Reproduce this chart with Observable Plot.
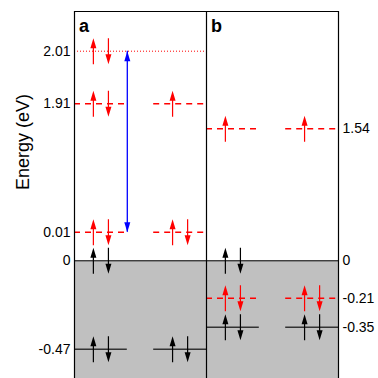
<!DOCTYPE html>
<html><head><meta charset="utf-8">
<script src="https://cdn.jsdelivr.net/npm/d3@7"></script>
<script src="https://cdn.jsdelivr.net/npm/@observablehq/plot@0.6"></script>
<style>body{margin:0;background:#fff}</style>
</head><body><div id="chart"></div>
<script>
// ---- data ----
const panels = ["a", "b"];
const siteCenters = [0.2, 0.8];          // two sites per panel (fraction of panel width)
const leftTicks = [2.01, 1.91, 0.01, 0, -0.47];
const leftTickLabels = ["2.01", "1.91", "0.01", "0", "-0.47"];
const rightTicks = [1.54, 0, -0.21, -0.35];
const rightTickLabels = ["1.54", "0", "-0.21", "-0.35"];
const valenceTop = 0;

const levels = [
  {panel: "a", site: 0, energy: 2.01, kind: "dotted"},
  {panel: "a", site: 0, energy: 1.91, kind: "dashed"},
  {panel: "a", site: 1, energy: 1.91, kind: "dashed"},
  {panel: "a", site: 0, energy: 0.01, kind: "dashed"},
  {panel: "a", site: 1, energy: 0.01, kind: "dashed"},
  {panel: "a", site: 0, energy: -0.47, kind: "solid"},
  {panel: "a", site: 1, energy: -0.47, kind: "solid"},
  {panel: "b", site: 0, energy: 1.54, kind: "dashed"},
  {panel: "b", site: 1, energy: 1.54, kind: "dashed"},
  {panel: "b", site: 0, energy: -0.21, kind: "dashed"},
  {panel: "b", site: 1, energy: -0.21, kind: "dashed"},
  {panel: "b", site: 0, energy: -0.35, kind: "solid"},
  {panel: "b", site: 1, energy: -0.35, kind: "solid"}
];

const electrons = [
  {panel: "a", site: 0, energy: 2.01, spin: "up", color: "red"},
  {panel: "a", site: 0, energy: 2.01, spin: "down", color: "red"},
  {panel: "a", site: 0, energy: 1.91, spin: "up", color: "red"},
  {panel: "a", site: 0, energy: 1.91, spin: "down", color: "red"},
  {panel: "a", site: 1, energy: 1.91, spin: "up", color: "red"},
  {panel: "a", site: 0, energy: 0.01, spin: "up", color: "red"},
  {panel: "a", site: 0, energy: 0.01, spin: "down", color: "red"},
  {panel: "a", site: 1, energy: 0.01, spin: "up", color: "red"},
  {panel: "a", site: 1, energy: 0.01, spin: "down", color: "red"},
  {panel: "a", site: 0, energy: 0, spin: "up", color: "black"},
  {panel: "a", site: 0, energy: 0, spin: "down", color: "black"},
  {panel: "a", site: 0, energy: -0.47, spin: "up", color: "black"},
  {panel: "a", site: 0, energy: -0.47, spin: "down", color: "black"},
  {panel: "a", site: 1, energy: -0.47, spin: "up", color: "black"},
  {panel: "a", site: 1, energy: -0.47, spin: "down", color: "black"},
  {panel: "b", site: 0, energy: 1.54, spin: "up", color: "red"},
  {panel: "b", site: 1, energy: 1.54, spin: "up", color: "red"},
  {panel: "b", site: 0, energy: 0, spin: "up", color: "black"},
  {panel: "b", site: 0, energy: 0, spin: "down", color: "black"},
  {panel: "b", site: 0, energy: -0.21, spin: "up", color: "red"},
  {panel: "b", site: 0, energy: -0.21, spin: "down", color: "red"},
  {panel: "b", site: 1, energy: -0.21, spin: "up", color: "red"},
  {panel: "b", site: 1, energy: -0.21, spin: "down", color: "red"},
  {panel: "b", site: 0, energy: -0.35, spin: "up", color: "black"},
  {panel: "b", site: 0, energy: -0.35, spin: "down", color: "black"},
  {panel: "b", site: 1, energy: -0.35, spin: "up", color: "black"},
  {panel: "b", site: 1, energy: -0.35, spin: "down", color: "black"}
];

const transitions = [{panel: "a", site: 0, from: 0.01, to: 2.01}];

// ---- layout helpers ----
const halfWidth = 0.2, spinOffset = 0.057;
const px = (d) => panels.indexOf(d.panel);
const siteX = (d) => px(d) + siteCenters[d.site];
const electronX = (d) => siteX(d) + (d.spin === "up" ? -spinOffset : spinOffset);

// schematic (broken, piecewise-linear) energy axis: energy -> axis units
const axisBreaksE = [-0.626, -0.47, -0.35, -0.21, 0, 0.01, 1.91, 2.01, 2.085];
const axisBreaksU = [0, 29.3, 51.3, 80.3, 117.7, 146.3, 274.7, 327.3, 367];
const ey = d3.scaleLinear().domain(axisBreaksE).range(axisBreaksU);

// arrow symbols (whole arrow, centred on origin)
function arrowSym(dir) {
  const L = 13, H = 10, W = 3, s = 0.6;
  return {draw(ctx) {
    const k = dir === "up" ? 1 : -1;
    ctx.moveTo(0, -L * k);
    ctx.lineTo(W, (-L + H) * k);
    ctx.lineTo(s, (-L + H) * k);
    ctx.lineTo(s, L * k);
    ctx.lineTo(-s, L * k);
    ctx.lineTo(-s, (-L + H) * k);
    ctx.lineTo(-W, (-L + H) * k);
    ctx.closePath();
  }};
}
function headSym(dir) {
  const H = 10, W = 3;
  return {draw(ctx) {
    const k = dir === "up" ? 1 : -1;
    ctx.moveTo(0, 0);
    ctx.lineTo(W, H * k);
    ctx.lineTo(-W, H * k);
    ctx.closePath();
  }};
}

const electronMarks = [];
for (const spin of ["up", "down"]) {
  for (const color of ["red", "black"]) {
    electronMarks.push(Plot.dot(electrons.filter(d => d.spin === spin && d.color === color), {
      x: electronX, y: d => ey(d.energy), symbol: arrowSym(spin), r: 5,
      fill: color === "red" ? "#ff0000" : "#000000", stroke: "none"
    }));
  }
}

const levelX1 = (d) => d.kind === "dotted" ? px(d) : siteX(d) - halfWidth;
const levelX2 = (d) => d.kind === "dotted" ? px(d) + 1 : siteX(d) + halfWidth;
const transX = (d) => siteX(d) + halfWidth;
const levelY = (d) => ey(d.energy);

const chart = Plot.plot({
  width: 378, height: 378,
  marginLeft: 74, marginRight: 40, marginTop: 11, marginBottom: 0,
  x: {domain: [0, panels.length], axis: null},
  y: {domain: [ey(axisBreaksE[0]), ey(axisBreaksE[axisBreaksE.length - 1])], axis: null},
  style: {fontFamily: "'Liberation Sans', Arial, sans-serif", fontSize: "14px", background: "#fff", color: "#000"},
  marks: [
    Plot.rect([{top: valenceTop}], {x1: 0, x2: panels.length, y1: d => ey(d.top), y2: () => ey(axisBreaksE[0]), fill: "#c0c0c0"}),
    Plot.ruleY([valenceTop], {y: d => ey(d), stroke: "#000", strokeWidth: 1}),
    Plot.ruleY(levels.filter(d => d.kind === "dotted"), {y: levelY, x1: levelX1, x2: levelX2, stroke: "#ff0000", strokeWidth: 1, strokeDasharray: "1,2"}),
    Plot.ruleY(levels.filter(d => d.kind === "dashed"), {y: levelY, x1: levelX1, x2: levelX2, stroke: "#ff0000", strokeWidth: 1.4, strokeDasharray: "6,5"}),
    Plot.ruleY(levels.filter(d => d.kind === "solid"), {y: levelY, x1: levelX1, x2: levelX2, stroke: "#333", strokeWidth: 1.6}),
    Plot.ruleX(transitions, {x: transX, y1: d => ey(d.from), y2: d => ey(d.to), stroke: "#0000ff", strokeWidth: 1.3}),
    Plot.dot(transitions, {x: transX, y: d => ey(d.to), symbol: headSym("up"), r: 5, fill: "#0000ff", stroke: "none"}),
    Plot.dot(transitions, {x: transX, y: d => ey(d.from), symbol: headSym("down"), r: 5, fill: "#0000ff", stroke: "none"}),
    ...electronMarks,
    Plot.ruleX(d3.range(panels.length + 1), {stroke: "#000", strokeWidth: 1.2}),
    Plot.ruleY([axisBreaksE[axisBreaksE.length - 1]], {y: d => ey(d), stroke: "#000", strokeWidth: 1.2}),
    Plot.text(leftTicks, {y: d => ey(d), text: (d, i) => leftTickLabels[i], frameAnchor: "left", textAnchor: "end", dx: -4, fontSize: 14}),
    Plot.text(rightTicks, {y: d => ey(d), text: (d, i) => rightTickLabels[i], frameAnchor: "right", textAnchor: "start", dx: 4, fontSize: 14}),
    Plot.text(["Energy (eV)"], {text: d => d, frameAnchor: "left", rotate: -90, dx: -51, dy: -5, fontSize: 18}),
    Plot.text(panels, {x: (d, i) => i, text: d => d, frameAnchor: "top", textAnchor: "start", dx: 4.5, dy: 8, fontSize: 18, fontWeight: "bold"})
  ]
});
document.getElementById("chart").appendChild(chart);
</script>
</body></html>
